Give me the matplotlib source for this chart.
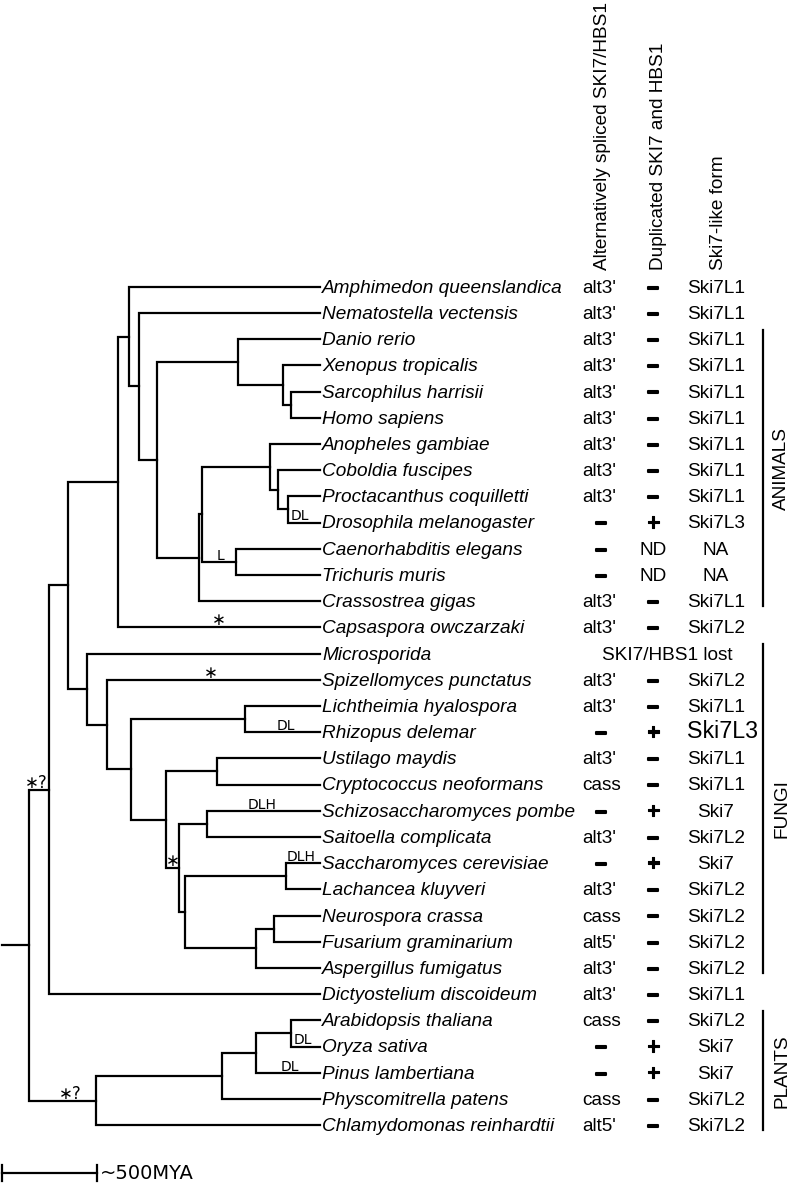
import matplotlib
matplotlib.use("Agg")
import matplotlib.pyplot as plt
from matplotlib import transforms
from matplotlib import patheffects

# ---- data -----------------------------------------------------------------
SPECIES = [
    "Amphimedon queenslandica", "Nematostella vectensis", "Danio rerio",
    "Xenopus tropicalis", "Sarcophilus harrisii", "Homo sapiens",
    "Anopheles gambiae", "Coboldia fuscipes", "Proctacanthus coquilletti",
    "Drosophila melanogaster", "Caenorhabditis elegans", "Trichuris muris",
    "Crassostrea gigas", "Capsaspora owczarzaki", "Microsporida",
    "Spizellomyces punctatus", "Lichtheimia hyalospora", "Rhizopus delemar",
    "Ustilago maydis", "Cryptococcus neoformans", "Schizosaccharomyces pombe",
    "Saitoella complicata", "Saccharomyces cerevisiae", "Lachancea kluyveri",
    "Neurospora crassa", "Fusarium graminarium", "Aspergillus fumigatus",
    "Dictyostelium discoideum", "Arabidopsis thaliana", "Oryza sativa",
    "Pinus lambertiana", "Physcomitrella patens", "Chlamydomonas reinhardtii",
]
ALT_SPLICE = [
    "alt3'", "alt3'", "alt3'", "alt3'", "alt3'", "alt3'", "alt3'", "alt3'",
    "alt3'", "-", "-", "-", "alt3'", "alt3'", "SKI7/HBS1 lost", "alt3'",
    "alt3'", "-", "alt3'", "cass", "-", "alt3'", "-", "alt3'", "cass",
    "alt5'", "alt3'", "alt3'", "cass", "-", "-", "cass", "alt5'",
]
DUPLICATED = [
    "-", "-", "-", "-", "-", "-", "-", "-", "-", "+", "ND", "ND", "-", "-",
    "", "-", "-", "+", "-", "-", "+", "-", "+", "-", "-", "-", "-", "-",
    "-", "+", "+", "-", "-",
]
SKI7_FORM = [
    "Ski7L1", "Ski7L1", "Ski7L1", "Ski7L1", "Ski7L1", "Ski7L1", "Ski7L1",
    "Ski7L1", "Ski7L1", "Ski7L3", "NA", "NA", "Ski7L1", "Ski7L2", "",
    "Ski7L2", "Ski7L1", "Ski7L3", "Ski7L1", "Ski7L1", "Ski7", "Ski7L2",
    "Ski7", "Ski7L2", "Ski7L2", "Ski7L2", "Ski7L2", "Ski7L1", "Ski7L2",
    "Ski7", "Ski7", "Ski7L2", "Ski7L2",
]
HEADERS = ["Alternatively spliced SKI7/HBS1", "Duplicated SKI7 and HBS1",
           "Ski7-like form"]

# internal node -> (upper child, lower child, age in million years)
NODES = {
    "root": ("opisthokonts+amoebozoa", "plants", 1535),
    "opisthokonts+amoebozoa": ("opisthokonts", "Dictyostelium discoideum", 1432),
    "opisthokonts": ("holozoa", "fungi", 1329),
    "holozoa": ("metazoa", "Capsaspora owczarzaki", 1068),
    "metazoa": ("Amphimedon queenslandica", "eumetazoa", 1008),
    "eumetazoa": ("Nematostella vectensis", "bilateria", 954),
    "bilateria": ("vertebrates", "protostomes", 862),
    "vertebrates": ("Danio rerio", "tetrapods", 433),
    "tetrapods": ("Xenopus tropicalis", "mammals", 197),
    "mammals": ("Sarcophilus harrisii", "Homo sapiens", 155),
    "protostomes": ("ecdysozoa", "Crassostrea gigas", 639),
    "ecdysozoa": ("insects", "nematodes", 621),
    "insects": ("Anopheles gambiae", "brachycera+", 264),
    "brachycera+": ("Coboldia fuscipes", "brachycera", 220),
    "brachycera": ("Proctacanthus coquilletti", "Drosophila melanogaster", 171),
    "nematodes": ("Caenorhabditis elegans", "Trichuris muris", 445),
    "fungi": ("Microsporida", "fungi2", 1232),
    "fungi2": ("Spizellomyces punctatus", "fungi3", 1126),
    "fungi3": ("mucorales", "dikarya", 998),
    "mucorales": ("Lichtheimia hyalospora", "Rhizopus delemar", 396),
    "dikarya": ("basidiomycota", "ascomycota", 813),
    "basidiomycota": ("Ustilago maydis", "Cryptococcus neoformans", 545),
    "ascomycota": ("taphrinomycotina", "saccharo+pezizo", 744),
    "taphrinomycotina": ("Schizosaccharomyces pombe", "Saitoella complicata", 595),
    "saccharo+pezizo": ("saccharomycetes", "pezizomycotina", 713),
    "saccharomycetes": ("Saccharomyces cerevisiae", "Lachancea kluyveri", 181),
    "pezizomycotina": ("sordariomycetes", "Aspergillus fumigatus", 338),
    "sordariomycetes": ("Neurospora crassa", "Fusarium graminarium", 241),
    "plants": ("embryophytes", "Chlamydomonas reinhardtii", 1183),
    "embryophytes": ("seed plants", "Physcomitrella patens", 516),
    "seed plants": ("angiosperms", "Pinus lambertiana", 338),
    "angiosperms": ("Arabidopsis thaliana", "Oryza sativa", 153),
}
ROOT = "root"
ROOT_STUB_AGE = 1679
SCALE_MY = 500

GROUPS = [
    ("ANIMALS", "Danio rerio", "Crassostrea gigas"),
    ("FUNGI", "Microsporida", "Aspergillus fumigatus"),
    ("PLANTS", "Arabidopsis thaliana", "Chlamydomonas reinhardtii"),
]

# (branch leading to node, label, fraction along branch)
BRANCH_MARKS = [
    ("opisthokonts+amoebozoa", "\u2217?", 0.35),
    ("plants", "\u2217?", 0.61),
    ("Capsaspora owczarzaki", "\u2217", 0.50),
    ("Spizellomyces punctatus", "\u2217", 0.49),
    ("ascomycota", "\u2217", 0.52),
    ("nematodes", "L", 0.55),
    ("Drosophila melanogaster", "DL", 0.37),
    ("Rhizopus delemar", "DL", 0.54),
    ("Schizosaccharomyces pombe", "DLH", 0.49),
    ("Saccharomyces cerevisiae", "DLH", 0.46),
    ("Oryza sativa", "DL", 0.41),
    ("Pinus lambertiana", "DL", 0.53),
]
BIG_FORM = {"Rhizopus delemar"}

# ---- layout ---------------------------------------------------------------
W, H = 793, 1187
TIP_PX = 320
PX_PER_MY = 94.7 / SCALE_MY
ROW0_PX, ROW_PX = 286.7, 26.2
FS = 13.7
LW = 1.6
FONT = "Liberation Sans"

fig = plt.figure(figsize=(W / 100, H / 100), dpi=100)
ax = fig.add_axes([0, 0, 1, 1])
ax.set_xlim(TIP_PX / PX_PER_MY, (TIP_PX - W) / PX_PER_MY)
ax.set_ylim((H - ROW0_PX) / ROW_PX, -ROW0_PX / ROW_PX)
ax.axis("off")

row = {sp: i for i, sp in enumerate(SPECIES)}
parent = {c: p for p, (a, b, _) in NODES.items() for c in (a, b)}


def node_y(name):
    if name in row:
        return row[name]
    a, b, _ = NODES[name]
    return (node_y(a) + node_y(b)) / 2


def node_age(name):
    return NODES[name][2] if name in NODES else 0.0


line_kw = dict(color="black", lw=LW, solid_joinstyle="miter",
               solid_capstyle="projecting")
for name, (a, b, ag) in NODES.items():
    ya, yb = node_y(a), node_y(b)
    ax.plot([node_age(a), ag, ag, node_age(b)], [ya, ya, yb, yb], **line_kw)
ax.plot([ROOT_STUB_AGE, node_age(ROOT)], [node_y(ROOT)] * 2, **line_kw)

# branch annotations
for node, label, frac in BRANCH_MARKS:
    x0, x1 = node_age(parent[node]), node_age(node)
    size = 12 if "\u2217" in label else 10
    ax.annotate(label, xy=(x0 + frac * (x1 - x0), node_y(node)),
                xytext=(0, 2), textcoords="offset pixels", ha="center",
                va="baseline", fontsize=size, family="DejaVu Sans")

base = 6 / ROW_PX  # baseline below branch line
colt = transforms.blended_transform_factory(ax.transAxes, ax.transData)
dash_fx = [patheffects.withStroke(linewidth=1.5, foreground="black")]
plus_fx = [patheffects.withStroke(linewidth=0.8, foreground="black")]


def cell(x_px, y, s, ha="center", size=FS):
    if s == "-":
        ax.text(x_px / W, y + base, "\u2013", transform=colt, ha="center",
                va="baseline", fontsize=FS, family=FONT, fontweight="bold",
                path_effects=dash_fx)
    elif s == "+":
        ax.text(x_px / W, y + base + 0.03, "+", transform=colt, ha="center",
                va="baseline", fontsize=FS + 2, family=FONT, fontweight="bold",
                path_effects=plus_fx)
    else:
        ax.text(x_px / W, y + base, s, transform=colt, ha=ha, va="baseline",
                fontsize=size, family=FONT)


for i, sp in enumerate(SPECIES):
    ax.annotate(sp, xy=(0, i + base), xytext=(2, 0), textcoords="offset pixels",
                ha="left", va="baseline", fontsize=FS, style="italic", family=FONT)
    if DUPLICATED[i] == "" and SKI7_FORM[i] == "":
        cell(667.5, i, ALT_SPLICE[i])
        continue
    if ALT_SPLICE[i] == "-":
        cell(601, i, "-")
    else:
        cell(582, i, ALT_SPLICE[i], ha="left")
    cell(653, i, DUPLICATED[i])
    if sp in BIG_FORM:
        cell(722, i, SKI7_FORM[i], size=FS * 1.22)
    else:
        cell(716, i, SKI7_FORM[i])

# column headers
for x_px, txt in zip([607, 663, 723], HEADERS):
    ax.text(x_px / W, (270 - ROW0_PX) / ROW_PX, txt, transform=colt,
            rotation=90, rotation_mode="anchor", ha="left", va="baseline",
            fontsize=FS, family=FONT)

# group brackets
for name, first, last in GROUPS:
    y0, y1 = row[first] - 0.35, row[last] + 0.2
    ax.plot([762.5 / W] * 2, [y0, y1], transform=colt, color="black", lw=LW)
    ax.text(786 / W, (y0 + y1) / 2, name, transform=colt, rotation=90,
            rotation_mode="anchor", ha="center", va="baseline",
            fontsize=FS, family=FONT)

# scale bar
ys = (1173.3 - ROW0_PX) / ROW_PX
tick = 8 / ROW_PX
x_end = ROOT_STUB_AGE - SCALE_MY
ax.plot([ROOT_STUB_AGE, x_end], [ys, ys], **line_kw)
for xe in (ROOT_STUB_AGE, x_end):
    ax.plot([xe, xe], [ys - tick, ys + tick], **line_kw)
ax.annotate("~500MYA", xy=(x_end, ys), xytext=(3, 0), textcoords="offset pixels",
            ha="left", va="center", fontsize=14, family="DejaVu Sans")

fig.savefig("out.png", dpi=100, facecolor="white")
